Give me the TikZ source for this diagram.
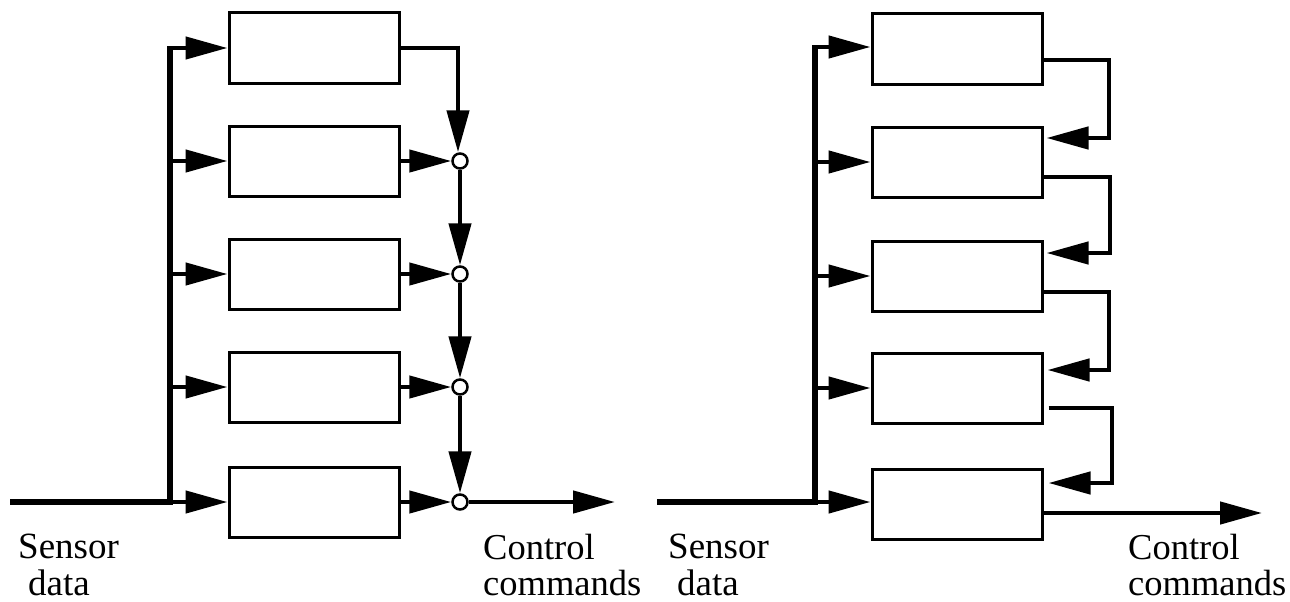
\documentclass[tikz,border=0pt]{standalone}
\usepackage{fontspec}
\setmainfont{Liberation Serif}
\usetikzlibrary{arrows.meta,calc}
\begin{document}
\begin{tikzpicture}[x=1pt,y=-1pt,
  box/.style={draw,line width=3pt,minimum width=170pt,minimum height=70pt,inner sep=0pt},
  conn/.style={line width=4.5pt,line join=miter},
  arr/.style={conn,-{Triangle[length=42pt,width=22pt]}},
  junc/.style={circle,draw,fill=white,line width=2.5pt,minimum size=15pt,inner sep=0pt},
  lbl/.style={font=\fontsize{37}{37}\selectfont,align=left,anchor=base west,inner sep=0pt},
  lblc/.style={font=\fontsize{36.5}{36}\selectfont,align=left,anchor=base west,inner sep=0pt}]
\useasboundingbox (0,0) rectangle (1290,602);
% ---------- left panel ----------
\node[box] (L1) at (314,48) {};
\node[box] (L2) at (314,161) {};
\node[box] (L3) at (314,274) {};
\node[box] (L4) at (314,387) {};
\node[box] (L5) at (314,502) {};
\node[junc] (c2) at (460,161) {};
\node[junc] (c3) at (460,274) {};
\node[junc] (c4) at (460,387) {};
\node[junc] (c5) at (460,502) {};
\coordinate (Lin) at (10,502);
\coordinate (Lbus) at (170,502);
\coordinate (Ltop) at (170,48);
\coordinate (Lcor) at (458,48);
\coordinate (Lout) at (615,502);
\draw[conn,line width=5.5pt] (Lin) -- (Lbus) -- ([yshift=2pt]Ltop);
\foreach \i in {1,...,5}{\draw[arr] (Ltop |- L\i) -- (L\i.west);}
\draw[conn] (L1.east) -- (Lcor);
\draw[arr] ([yshift=2.25pt]Lcor) -- (Lcor |- c2.north);
\draw[arr] (c2.south) -- (c3.north);
\draw[arr] (c3.south) -- (c4.north);
\draw[arr] (c4.south) -- (c5.north);
\foreach \i in {2,...,5}{\draw[arr] (L\i.east) -- (c\i.west);}
\draw[arr] (c5.east) -- (Lout);
\node[lbl] (Lsens) at (18,595) {Sensor\\\hspace*{10pt}data};
\node[lblc] (Lctrl) at (483,595) {Control\\commands};
% ---------- right panel ----------
\node[box] (R1) at (957,49) {};
\node[box] (R2) at (957,162) {};
\node[box] (R3) at (957,276) {};
\node[box] (R4) at (957,388) {};
\node[box] (R5) at (957,504) {};
\coordinate (Rin) at (657,502);
\coordinate (Rbus) at (815,502);
\coordinate (Rtop) at (815,47);
\coordinate (RX) at (1109,0);
\coordinate (Rout) at (1262,513);
\draw[conn,line width=5.5pt] (Rin) -- (Rbus) -- ([yshift=2pt]Rtop);
\draw[arr] (Rtop) -- (R1.west |- Rtop);
\draw[arr] (Rtop |- R2) -- (R2.west);
\draw[arr] (Rtop |- R3) -- (R3.west);
\draw[arr] (Rtop |- R4) -- (R4.west);
\draw[arr] (Rbus) -- (R5.west |- Rbus);
\coordinate (o1) at ([yshift=-11pt]R1.east);
\coordinate (o2) at ([yshift=-15pt]R2.east);
\coordinate (o3) at ([yshift=-16pt]R3.east);
\coordinate (o4) at ([xshift=5pt,yshift=-20pt]R4.east);
\coordinate (i2) at ([xshift=3pt,yshift=24pt]R2.east);
\coordinate (i3) at ([xshift=3pt,yshift=23pt]R3.east);
\coordinate (i4) at ([xshift=4pt,yshift=18pt]R4.east);
\coordinate (i5) at ([xshift=5pt,yshift=21pt]R5.east);
\draw[arr] (o1) -- (o1 -| RX) -- (RX |- i2) -- (i2);
\draw[arr] (o2) -- ([xshift=1pt]o2 -| RX) -- ([xshift=1pt]RX |- i3) -- (i3);
\draw[arr] (o3) -- (o3 -| RX) -- (RX |- i4) -- (i4);
\draw[arr] (o4) -- ([xshift=3pt]o4 -| RX) -- ([xshift=3pt]RX |- i5) -- (i5);
\draw[arr] (R5.east |- Rout) -- (Rout);
\node[lbl] (Rsens) at (668,595) {Sensor\\\hspace*{9pt}data};
\node[lblc] (Rctrl) at (1128,595) {Control\\commands};
\end{tikzpicture}
\end{document}
